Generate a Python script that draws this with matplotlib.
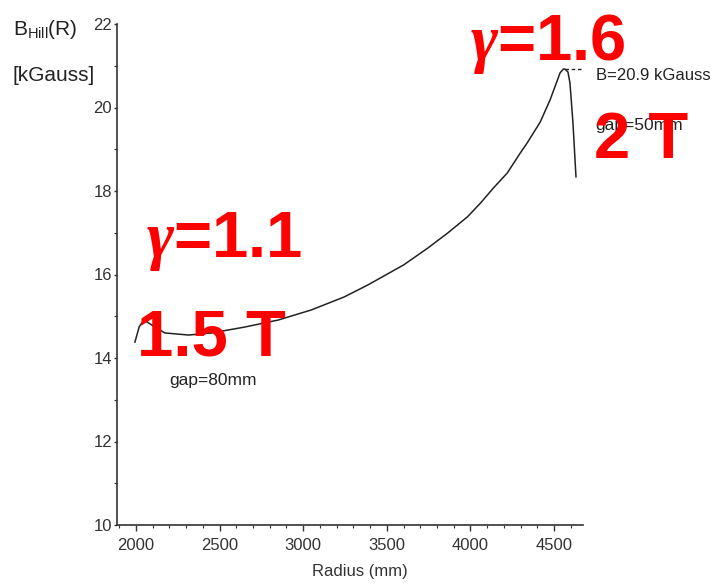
import matplotlib
matplotlib.use("Agg")
import matplotlib.pyplot as plt
from matplotlib.ticker import MultipleLocator

# Daten
radius = [1994, 2020, 2048, 2095, 2173, 2315, 2452, 2649, 2851, 3048, 3244,
          3387, 3601, 3744, 3863, 3982, 4060, 4137, 4220, 4298, 4339, 4417,
          4476, 4536, 4555, 4565, 4583, 4595, 4613, 4631]
field = [14.38, 14.75, 14.91, 14.79, 14.60, 14.55, 14.60, 14.74, 14.91, 15.15,
         15.46, 15.75, 16.23, 16.63, 16.99, 17.38, 17.71, 18.07, 18.43, 18.91,
         19.15, 19.65, 20.18, 20.83, 20.92, 20.92, 20.85, 20.59, 19.63, 18.34]

peak_r = 4565
peak_b = 20.92

font = "Liberation Sans"
plt.rcParams["mathtext.fontset"] = "custom"
plt.rcParams["mathtext.it"] = "Liberation Serif:italic:bold"
plt.rcParams["mathtext.rm"] = "Liberation Sans:bold"

W, H = 713, 587
fig = plt.figure(figsize=(W / 100, H / 100), dpi=100)
ax = fig.add_axes([117 / W, 1 - 525 / H, (583 - 117) / W, (525 - 24) / H])

ax.plot(radius, field, color="#222222", lw=1.1)
# gestrichelte Linie zum Maximum
ax.plot([peak_r, 4675], [peak_b, peak_b], color="#222222", lw=1.0,
        ls=(0, (2.5, 2)), clip_on=False)

ax.set_xlim(1887, 4673)
ax.set_ylim(10, 22)
ax.xaxis.set_major_locator(MultipleLocator(500))
ax.xaxis.set_minor_locator(MultipleLocator(100))
ax.yaxis.set_major_locator(MultipleLocator(2))
ax.yaxis.set_minor_locator(MultipleLocator(1))
ax.spines["top"].set_visible(False)
ax.spines["right"].set_visible(False)
for s in ["left", "bottom"]:
    ax.spines[s].set_color("#333333")
    ax.spines[s].set_linewidth(1.2)
ax.tick_params(axis="x", which="major", length=4, width=1, pad=5,
               colors="#333333")
ax.tick_params(axis="x", which="minor", length=2.5, width=0.8,
               colors="#333333")
ax.tick_params(axis="y", which="major", length=2.5, width=1, pad=1,
               colors="#333333")
ax.tick_params(axis="y", which="minor", length=2, width=0.8,
               colors="#333333")
for lab in ax.get_xticklabels() + ax.get_yticklabels():
    lab.set_family(font)
    lab.set_fontsize(12)

ax.set_xlabel("Radius (mm)", family=font, fontsize=12, color="#333333")
ax.xaxis.set_label_coords((360 - 117) / 466, -0.078)


def ftext(x, y, s, **kw):
    fig.text(x / W, 1 - y / H, s, va="baseline", **kw)


ftext(13, 35, r"B$\mathregular{_{Hill}}$(R)", family=font, fontsize=15,
      color="#222222")
ftext(13, 81, "[kGauss]", family=font, fontsize=15, color="#222222")

ftext(596, 80, "B=20.9 kGauss", family=font, fontsize=12, color="#222222")
ftext(595, 130, "gap=50mm", family=font, fontsize=12.5, color="#222222")
ftext(169, 385, "gap=80mm", family=font, fontsize=12.5, color="#222222")

red = dict(color="#ff0000", fontsize=47, fontweight="bold", family=font)
ftext(470, 60, r"$\gamma$=1.6", **red)
ftext(594, 158, "2 T", **red)
ftext(146, 257, r"$\gamma$=1.1", **red)
ftext(137, 355, "1.5 T", **red)

fig.savefig("out.png", dpi=100)
